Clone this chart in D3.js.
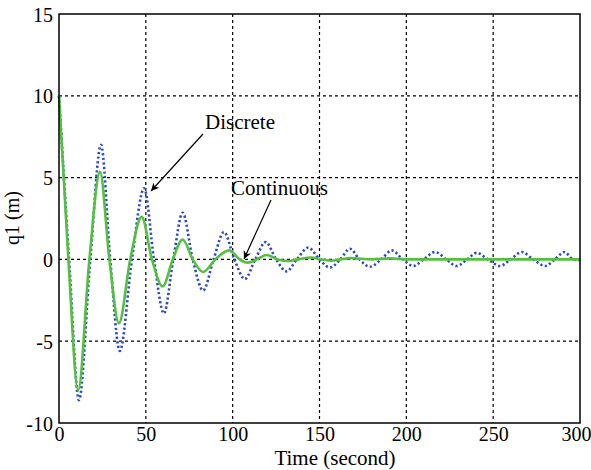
<!DOCTYPE html>
<html>
<head>
<meta charset="utf-8">
<script src="https://cdn.jsdelivr.net/npm/d3@7"></script>
<style>
  body { margin: 0; background: #fff; }
  text { font-family: "Liberation Serif", "Times New Roman", serif; }
</style>
</head>
<body>
<div id="main"></div>
<script>
const ctx = {
    width: 591,
    height: 470,
    left: 59,
    right: 580,
    top: 14,
    bottom: 423
};

// ticks
const xTicks = [0, 50, 100, 150, 200, 250, 300];
const yTicks = [-10, -5, 0, 5, 10, 15];

// Discrete (blue dotted) : time / value
const discreteT = [0, 5.8, 11.5, 18, 24.2, 29.5, 35, 42, 49, 54.7, 60.4, 65.8, 71.2, 77, 83, 89, 95, 101, 107, 113, 119, 125, 131, 137,
    143.5, 150, 156, 162, 167.5, 173, 179, 185.5, 191.7, 198, 204, 210, 216.5, 223, 229, 235, 240.6, 247, 254, 260, 266.5, 273, 280, 285.5, 291, 296, 300];
const discreteQ = [10, 0, -8.6, 0, 7.0, 0, -5.6, 0, 4.35, 0, -3.3, 0, 2.85, 0, -1.9, 0, 1.67, 0, -1.2, 0, 1.06, 0, -0.73, 0,
    0.72, 0, -0.5, 0, 0.65, 0, -0.45, 0, 0.55, 0, -0.4, 0, 0.45, 0, -0.4, 0, 0.4, 0, -0.4, 0, 0.45, 0, -0.4, 0, 0.45, 0, -0.05];

// Continuous (green solid)
const continuousT = [0, 5.4, 11, 17.5, 23.6, 29, 34.5, 41, 47.6, 53.5, 59.7, 65.5, 71.2, 77, 83, 90, 98, 104, 108.5, 114, 119.5, 126, 132,
    138, 145, 151, 157, 162, 168, 180, 190, 200, 220, 240, 260, 280, 300];
const continuousQ = [10, 0, -8.0, 0, 5.35, 0, -3.9, 0, 2.6, 0, -1.65, 0, 1.22, 0, -0.77, 0, 0.55, 0, -0.2, 0, 0.27, 0, -0.1,
    0, 0.12, 0, -0.08, 0, 0.08, 0, 0.06, 0, 0, 0, 0, 0, 0];

// annotations
const labels = [
    { text: "Discrete", x: 205, y: 129, from: [203, 134], to: [151, 191] },
    { text: "Continuous", x: 231, y: 195, from: [271, 200], to: [244, 259] }
];

function createViz() {
    const svg = d3.select("#main").append("svg")
        .attr("width", ctx.width)
        .attr("height", ctx.height);

    svg.append("rect").attr("width", ctx.width).attr("height", ctx.height).attr("fill", "#fff");

    const x = d3.scaleLinear().domain([0, 300]).range([ctx.left, ctx.right]);
    const y = d3.scaleLinear().domain([-10, 15]).range([ctx.bottom, ctx.top]);

    // grille pointillee
    const grid = svg.append("g").attr("stroke", "#000").attr("stroke-width", 1.2).attr("stroke-dasharray", "3,3");
    grid.selectAll(".gx").data(xTicks.slice(1, -1)).enter().append("line")
        .attr("x1", d => x(d)).attr("x2", d => x(d))
        .attr("y1", ctx.top).attr("y2", ctx.bottom);
    grid.selectAll(".gy").data(yTicks.slice(1, -1)).enter().append("line")
        .attr("x1", ctx.left).attr("x2", ctx.right)
        .attr("y1", d => y(d)).attr("y2", d => y(d));

    // courbes
    const line = d3.line().x(d => x(d[0])).y(d => y(d[1])).curve(d3.curveMonotoneX);

    svg.append("path")
        .datum(discreteT.map((t, i) => [t, discreteQ[i]]))
        .attr("d", line)
        .attr("fill", "none")
        .attr("stroke", "#2b49c6")
        .attr("stroke-width", 2.6)
        .attr("stroke-dasharray", "2.2,2.4");

    svg.append("path")
        .datum(continuousT.map((t, i) => [t, continuousQ[i]]))
        .attr("d", line)
        .attr("fill", "none")
        .attr("stroke", "#55c03f")
        .attr("stroke-width", 2.6);

    // cadre
    svg.append("rect")
        .attr("x", ctx.left).attr("y", ctx.top)
        .attr("width", ctx.right - ctx.left).attr("height", ctx.bottom - ctx.top)
        .attr("fill", "none").attr("stroke", "#000").attr("stroke-width", 1.5);

    // axes (tirets simples comme l'original)
    const fmt = d => String(d);
    const xAxis = svg.append("g").attr("transform", "translate(0," + ctx.bottom + ")")
        .call(d3.axisBottom(x).tickValues(xTicks).tickFormat(fmt).tickSize(0).tickPadding(18));
    const yAxis = svg.append("g").attr("transform", "translate(" + ctx.left + ",0)")
        .call(d3.axisLeft(y).tickValues(yTicks).tickFormat(fmt).tickSize(0).tickPadding(6));
    [xAxis, yAxis].forEach(a => {
        a.select(".domain").remove();
        a.selectAll("text").attr("font-family", "Liberation Serif").attr("font-size", 20).attr("fill", "#000");
    });
    xAxis.selectAll("text").attr("dy", 0).attr("y", 18);
    xAxis.selectAll(".tick").filter(d => d === 300).select("text").attr("dx", -4);
    yAxis.selectAll("text").attr("dy", "0.35em");

    svg.append("text")
        .attr("x", 335).attr("y", 465)
        .attr("text-anchor", "middle")
        .attr("font-size", 21)
        .text("Time (second)");

    svg.append("text")
        .attr("transform", "translate(19,218) rotate(-90)")
        .attr("text-anchor", "middle")
        .attr("font-size", 20)
        .text("q1 (m)");

    // fleches
    svg.append("defs").append("marker")
        .attr("id", "arrow")
        .attr("viewBox", "0 0 10 10")
        .attr("refX", 10).attr("refY", 5)
        .attr("markerWidth", 12).attr("markerHeight", 8)
        .attr("markerUnits", "userSpaceOnUse")
        .attr("orient", "auto")
        .append("path").attr("d", "M0,0 L10,5 L0,10 L3,5 Z").attr("fill", "#000");

    labels.forEach(l => {
        svg.append("line")
            .attr("x1", l.from[0]).attr("y1", l.from[1])
            .attr("x2", l.to[0]).attr("y2", l.to[1])
            .attr("stroke", "#000").attr("stroke-width", 1.2)
            .attr("marker-end", "url(#arrow)");
        svg.append("text")
            .attr("x", l.x).attr("y", l.y)
            .attr("font-size", 21)
            .text(l.text);
    });
}

createViz();
</script>
</body>
</html>
